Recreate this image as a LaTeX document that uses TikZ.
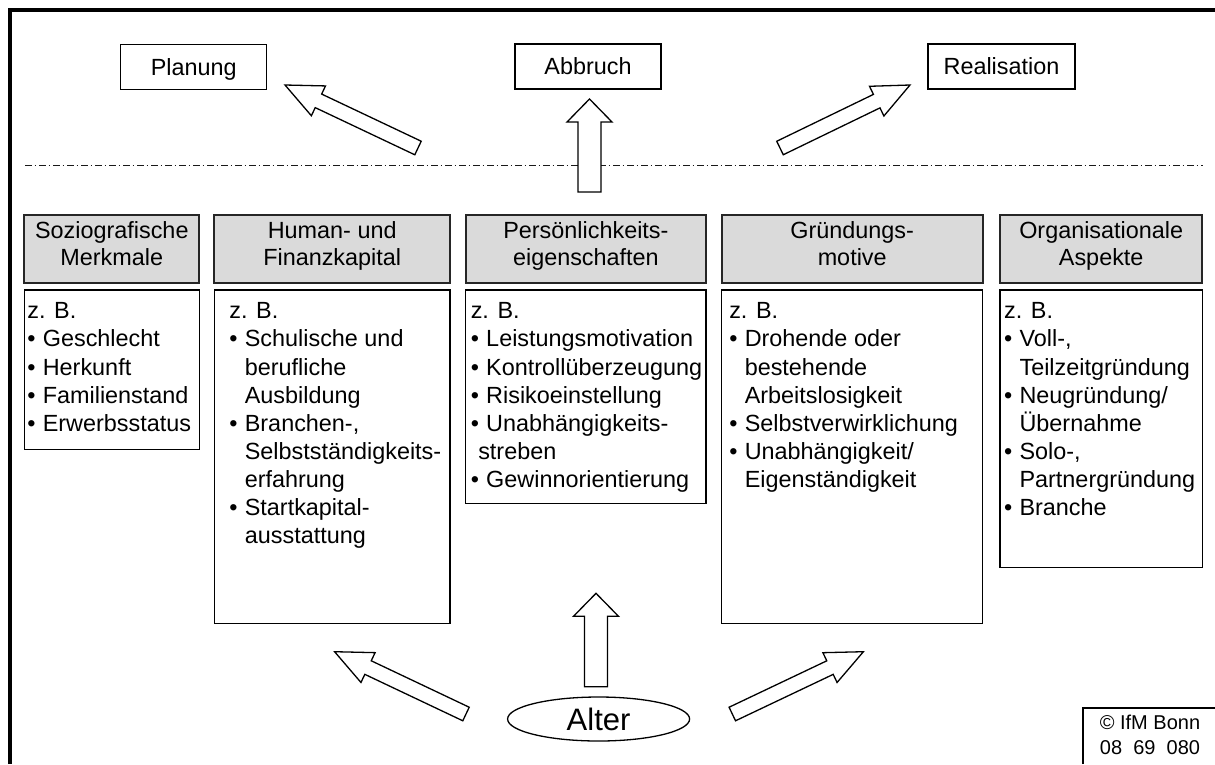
\documentclass[tikz,border=0pt]{standalone}
\usepackage{fontspec}
\setmainfont{Liberation Sans}
\usetikzlibrary{calc,shapes.geometric}
\newcommand{\bul}{\makebox[15.5pt][l]{\textbullet}}
\newcommand{\ind}[1][15.5pt]{\hspace*{#1}}
% block arrow: tail, tip, shaft half width, head half width, head length
\newcommand{\blockarrow}[5]{%
  \coordinate (ba-base) at ($(#2)!#5!(#1)$);
  \draw[barrow] ($(#1)!#3!90:(#2)$) -- ($(ba-base)!#3!90:(#2)$) -- ($(ba-base)!#4!90:(#2)$)
     -- (#2) -- ($(ba-base)!#4!-90:(#2)$) -- ($(ba-base)!#3!-90:(#2)$) -- ($(#1)!#3!-90:(#2)$) -- cycle;}
\begin{document}
\begin{tikzpicture}[x=1pt,y=-1pt,
  topbox/.style={draw, line width=1.3pt, inner sep=0pt, minimum height=45pt,
     text height=16.8pt, text depth=0pt, font=\fontsize{23.4}{27.4}\selectfont},
  headbox/.style={draw=black!85, line width=1.8pt, fill=headgray, inner sep=0pt,
     minimum height=68pt},
  headtext/.style={inner sep=0pt, align=center, font=\fontsize{23.4}{27.2}\selectfont},
  contbox/.style={draw, line width=1.3pt, inner sep=0pt},
  conttext/.style={anchor=north west, inner sep=0pt, align=left,
     font=\fontsize{23.4}{28.1}\selectfont},
  barrow/.style={draw, fill=white, line width=1.3pt, line join=miter},
  dashdotline/.style={draw=black!90, line width=1.1pt,
     dash pattern=on 6.5pt off 3pt on 1.5pt off 3pt},
  frameline/.style={line width=3.5pt}]
\definecolor{headgray}{RGB}{218,218,218}
\useasboundingbox (0,0) rectangle (1215,764);

% outer frame (top and left only visible)
\draw[frameline] (10,764) -- (10,10) -- (1215,10);

% top result boxes
\node[topbox, minimum width=146pt] (plan) at (193.7,66.8) {Planung};
\node[topbox, minimum width=146pt] (abbr) at (588,66.5) {Abbruch};
\node[topbox, minimum width=147pt] (real) at (1001.5,66.5) {Realisation};

% dash-dot separator
\coordinate (dl1) at (25,165.7);
\coordinate (dl2) at (1203,165.7);
\draw[dashdotline] (dl1) -- (dl2);

% top arrows
\coordinate (ta1) at (418,148);   \coordinate (tp1) at (285,85);
\coordinate (ta2) at (589.5,192); \coordinate (tp2) at (589.5,99);
\coordinate (ta3) at (780,148);   \coordinate (tp3) at (910,85);
\blockarrow{ta1}{tp1}{7.5pt}{16.5pt}{37pt}
\blockarrow{ta2}{tp2}{11.5pt}{22.5pt}{23pt}
\blockarrow{ta3}{tp3}{7.5pt}{16.5pt}{37pt}

% category headers
\node[headbox, minimum width=175pt]   (h1) at (111.8,249) {};
\node[headbox, minimum width=235.7pt] (h2) at (332.2,249) {};
\node[headbox, minimum width=240.3pt] (h3) at (585.9,249) {};
\node[headbox, minimum width=261pt]   (h4) at (852.2,249) {};
\node[headbox, minimum width=202.3pt] (h5) at (1101.2,249) {};
\node[headtext] (ht1) at ($(h1.center)+(0,-2.5)$) {\strut Soziografische\\\strut Merkmale};
\node[headtext] (ht2) at ($(h2.center)+(0,-2.5)$) {\strut Human- und\\\strut Finanzkapital};
\node[headtext] (ht3) at ($(h3.center)+(0,-2.5)$) {\strut Persönlichkeits-\\\strut eigenschaften};
\node[headtext] (ht4) at ($(h4.center)+(0,-2.5)$) {\strut Gründungs-\\\strut motive};
\node[headtext] (ht5) at ($(h5.center)+(0,-2.5)$) {\strut Organisationale\\\strut Aspekte};

% content boxes
\node[contbox, minimum width=175pt,   minimum height=159.3pt] (c1) at (111.8,369.65) {};
\node[contbox, minimum width=235.7pt, minimum height=333.3pt] (c2) at (332.15,456.65) {};
\node[contbox, minimum width=240.3pt, minimum height=213.3pt] (c3) at (585.85,396.65) {};
\node[contbox, minimum width=261pt,   minimum height=333.3pt] (c4) at (852.2,456.65) {};
\node[contbox, minimum width=202.3pt, minimum height=277.7pt] (c5) at (1101.15,428.85) {};

\node[conttext] (t1) at ($(c1.north west)+(3.5,13.2)$) {z. B.\\
  \bul Geschlecht\\ \bul Herkunft\\ \bul Familienstand\\ \bul Erwerbsstatus};
\node[conttext] (t2) at ($(c2.north west)+(15.5,13.2)$) {z. B.\\
  \bul Schulische und\\ \ind berufliche\\ \ind Ausbildung\\
  \bul Branchen-,\\ \ind Selbstständigkeits-\\ \ind erfahrung\\
  \bul Startkapital-\\ \ind ausstattung};
\node[conttext] (t3) at ($(c3.north west)+(5.5,13.2)$) {z. B.\\
  \bul Leistungsmotivation\\ \bul Kontrollüberzeugung\\ \bul Risikoeinstellung\\
  \bul Unabhängigkeits-\\ \ind[7.5pt]streben\\ \bul Gewinnorientierung};
\node[conttext] (t4) at ($(c4.north west)+(8,13.2)$) {z. B.\\
  \bul Drohende oder\\ \ind bestehende\\ \ind Arbeitslosigkeit\\
  \bul Selbstverwirklichung\\ \bul Unabhängigkeit/\\ \ind Eigenständigkeit};
\node[conttext] (t5) at ($(c5.north west)+(4.5,13.2)$) {z. B.\\
  \bul Voll-,\\ \ind Teilzeitgründung\\ \bul Neugründung/\\ \ind Übernahme\\
  \bul Solo-,\\ \ind Partnergründung\\ \bul Branche};

% Alter and bottom arrows
\node[ellipse, draw, line width=1.3pt, inner sep=0pt, minimum width=182pt,
      minimum height=44pt, font=\fontsize{31}{36}\selectfont] (alter) at (598.6,719) {Alter};
\coordinate (ba1) at (466,714);   \coordinate (bp1) at (334.6,651.7);
\coordinate (ba2) at (596,686.7); \coordinate (bp2) at (596,593.3);
\coordinate (ba3) at (732.3,714); \coordinate (bp3) at (863.4,651.7);
\blockarrow{ba1}{bp1}{7.5pt}{16.5pt}{37pt}
\blockarrow{ba2}{bp2}{11.5pt}{22.5pt}{23pt}
\blockarrow{ba3}{bp3}{7.5pt}{16.5pt}{37pt}

% copyright box
\draw[line width=1.3pt] (1083,764) -- (1083,708) -- (1215,708);
\node[inner sep=0pt, align=center, font=\fontsize{20}{25}\selectfont] (copy)
   at (1150,735) {© IfM Bonn\\08\ \ 69\ \ 080};
\end{tikzpicture}
\end{document}
